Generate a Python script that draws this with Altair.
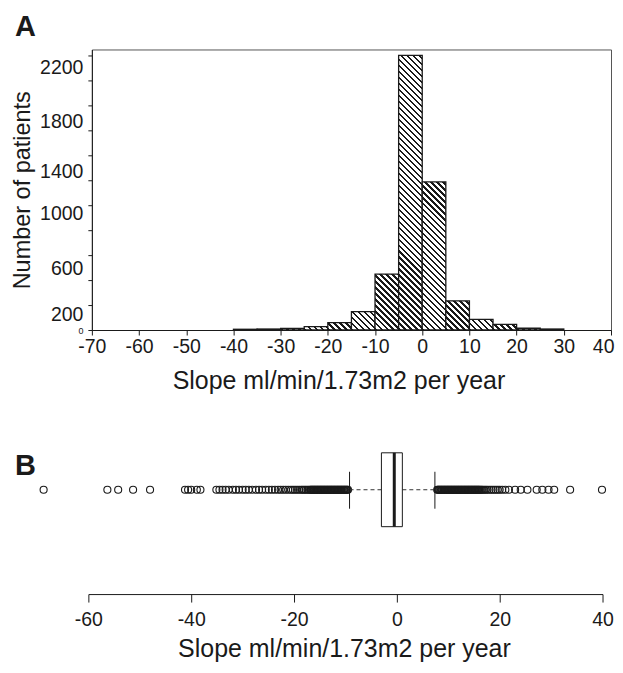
import altair as alt
import pandas as pd

# ---------------- data ----------------
bin_start = [-40, -35, -30, -25, -20, -15, -10, -5, 0, 5, 10, 15, 20, 25]
bin_width = 5
counts = [6, 8, 13, 27, 59, 147, 448, 2200, 1187, 234, 85, 45, 14, 8]

y_ticks = list(range(0, 2201, 200))
y_labelled = [0, 200, 600, 1000, 1400, 1800, 2200]
x_ticks_a = list(range(-70, 41, 10))
x_ticks_b = [-60, -40, -20, 0, 20, 40]

q1, median, q3 = -3.1, -0.6, 0.97
whisker_lo, whisker_hi = -9.3, 7.3

outliers_left = [-68.8, -56.4, -54.3, -51.4, -48.1,
                 -41.3, -40.7, -40.1, -39.0, -38.3,
                 -35.2, -34.6, -34.0, -33.4, -32.8, -32.0, -31.4, -30.8, -30.1,
                 -29.5, -28.9, -28.2, -27.5, -26.9, -26.3, -25.6, -25.0, -24.4,
                 -23.8, -23.2, -22.7, -22.2, -21.7, -21.2, -20.7, -20.3, -19.9,
                 -19.5, -19.1, -18.7, -18.4, -18.1, -17.8, -17.5, -17.2,
                 -16.95, -16.8, -16.65, -16.5, -16.35, -16.2, -16.05, -15.9,
                 -15.75, -15.6, -15.45, -15.3, -15.15, -15.0, -14.85, -14.7,
                 -14.55, -14.4, -14.25, -14.1, -13.95, -13.8, -13.65, -13.5,
                 -13.35, -13.2, -13.05, -12.9, -12.75, -12.6, -12.45, -12.3,
                 -12.15, -12.0, -11.85, -11.7, -11.55, -11.4, -11.25, -11.1,
                 -10.95, -10.8, -10.65, -10.5, -10.35, -10.2, -10.05, -9.9,
                 -9.75, -9.6]
outliers_right = [7.75, 7.9, 8.05, 8.2, 8.35, 8.5, 8.65, 8.8, 8.95, 9.1,
                  9.25, 9.4, 9.55, 9.7, 9.85, 10.0, 10.15, 10.3, 10.45, 10.6,
                  10.75, 10.9, 11.05, 11.2, 11.35, 11.5, 11.65, 11.8, 11.95,
                  12.1, 12.25, 12.4, 12.55, 12.7, 12.85, 13.0, 13.15, 13.3,
                  13.45, 13.6, 13.75, 13.9, 14.05, 14.2, 14.35, 14.5, 14.65,
                  14.8, 14.95, 15.1, 15.25, 15.4, 15.55, 15.7, 15.85, 16.0,
                  16.2, 16.4, 16.6, 16.9, 17.2, 17.5, 17.9, 18.3, 18.7, 19.1,
                  19.5, 19.9, 20.4,
                  21.0, 21.7, 22.9, 24.0, 25.3, 27.1, 28.2, 29.4, 30.5, 33.6, 39.8]

FONT = "Liberation Sans"
INK = "#1a1a1a"

# ---------------- panel A ----------------
WA, HA = 520, 281
xa_dom = [-70, 40]
ya_dom = [0, 2248]
xs_a = alt.Scale(domain=xa_dom, nice=False, zero=False)
ys_a = alt.Scale(domain=ya_dom, nice=False, zero=False)

bars = pd.DataFrame({
    "i": list(range(len(bin_start))),
    "start": bin_start,
    "end": [b + bin_width for b in bin_start],
    "count": counts,
})


def hatch(w, h, period=6.0, dark=0.42):
    """diagonal '\\' hatch as a striped linear gradient in bbox units"""
    k = (w + h) / (w * w + h * h)
    L = w + h
    stops = []
    j = 0
    while True:
        a = j * period / L
        if a >= 1:
            break
        b = min((j + dark) * period / L, 1.0)
        nxt = min((j + 1) * period / L, 1.0)
        stops += [(a, INK), (b, INK), (b, "white"), (nxt, "white")]
        j += 1
    return alt.LinearGradient(
        gradient="linear",
        x1=0, y1=1, x2=round(k * w, 5), y2=round(1 - k * h, 5),
        stops=[alt.GradientStop(offset=round(o, 5), color=c) for o, c in stops],
    )


def build(label_offset):
    x_axis_a = alt.Axis(values=x_ticks_a, grid=False, tickSize=5, tickColor=INK,
                        domainColor=INK, labelFontSize=19.5, labelColor=INK,
                        labelPadding=3, labelExpr="'' + datum.value",
                        labelAlign={"condition": {"test": "datum.value === 40", "value": "right"},
                                    "value": "center"},
                        labelOffset={"condition": {"test": "datum.value === 40", "value": 3},
                                     "value": 0},
                        title="Slope ml/min/1.73m2 per year",
                        titleFontSize=25, titleFontWeight="normal", titleColor=INK,
                        titlePadding=12, titleX=247, labelFlush=False)
    y_axis_a = alt.Axis(values=y_ticks, grid=False, tickSize=4, tickColor=INK,
                        domainColor=INK, labelColor=INK, labelPadding=5,
                        labelExpr="indexof([0,200,600,1000,1400,1800,2200], datum.value) >= 0 ? '' + datum.value : ''",
                        labelFontSize={"condition": {"test": "datum.value === 0", "value": 9}, "value": 19.5},
                        labelOffset=label_offset,
                        title="Number of patients", titleFontSize=23.5,
                        titleFontWeight="normal", titleColor=INK,
                        titleBaseline="alphabetic", titlePadding=10.5)

    px_x = WA / (xa_dom[1] - xa_dom[0])
    px_y = HA / (ya_dom[1] - ya_dom[0])

    layers_a = []
    for i in range(len(bin_start)):
        w = bin_width * px_x
        h = max(counts[i] * px_y, 0.5)
        layers_a.append(
            alt.Chart(bars).transform_filter(alt.datum.i == i)
            .mark_rect(fill=hatch(w, h), stroke=INK, strokeWidth=1.3)
            .encode(
                x=alt.X("start:Q", scale=xs_a, axis=x_axis_a),
                x2="end:Q",
                y=alt.Y("count:Q", scale=ys_a, axis=y_axis_a),
                y2=alt.datum(0),
            )
        )

    label_a = alt.Chart(pd.DataFrame({"t": ["A"]})).mark_text(
        font=FONT, fontSize=29, fontWeight="bold", align="left", baseline="alphabetic",
        color=INK).encode(text="t:N", x=alt.value(-77), y=alt.value(-13))

    panel_a = alt.layer(*layers_a, label_a).properties(
        width=WA, height=HA,
        view=alt.ViewBackground(stroke="#555", strokeWidth=1),
    )

    # ---------------- panel B ----------------
    WB, HB = 520, 159
    xb_dom = [-59.417, 41.553]
    xs_b = alt.Scale(domain=xb_dom, nice=False, zero=False)
    Y_MID = 54
    BOX_T, BOX_B = 17, 91
    CAP_T, CAP_B = 36, 73

    pts = pd.DataFrame({"v": outliers_left + outliers_right})
    stats = pd.DataFrame({"q1": [q1], "med": [median], "q3": [q3],
                          "lo": [whisker_lo], "hi": [whisker_hi]})
    ticks_b = pd.DataFrame({"v": x_ticks_b, "lab": [str(v) for v in x_ticks_b]})
    axis_line = pd.DataFrame({"a": [x_ticks_b[0]], "b": [x_ticks_b[-1]]})

    def xb(f):
        return alt.X(f, scale=xs_b, axis=None)

    points = alt.Chart(pts).mark_point(shape="circle", filled=False, size=50,
                                       stroke=INK, strokeWidth=1.1, opacity=1).encode(
        x=xb("v:Q"), y=alt.value(Y_MID))
    whisk_l = alt.Chart(stats).mark_rule(color="#333", strokeDash=[4, 3], strokeWidth=1).encode(
        x=xb("lo:Q"), x2="q1:Q", y=alt.value(Y_MID))
    whisk_r = alt.Chart(stats).mark_rule(color="#333", strokeDash=[4, 3], strokeWidth=1).encode(
        x=xb("q3:Q"), x2="hi:Q", y=alt.value(Y_MID))
    cap_l = alt.Chart(stats).mark_rule(color=INK, strokeWidth=1).encode(
        x=xb("lo:Q"), y=alt.value(CAP_T), y2=alt.value(CAP_B))
    cap_r = alt.Chart(stats).mark_rule(color=INK, strokeWidth=1).encode(
        x=xb("hi:Q"), y=alt.value(CAP_T), y2=alt.value(CAP_B))
    box = alt.Chart(stats).mark_rect(fill="white", stroke=INK, strokeWidth=1).encode(
        x=xb("q1:Q"), x2="q3:Q", y=alt.value(BOX_T), y2=alt.value(BOX_B))
    med_rule = alt.Chart(stats).mark_rule(color=INK, strokeWidth=3).encode(
        x=xb("med:Q"), y=alt.value(BOX_T), y2=alt.value(BOX_B))
    ax_line = alt.Chart(axis_line).mark_rule(color=INK, strokeWidth=1).encode(
        x=xb("a:Q"), x2="b:Q", y=alt.value(HB))
    ax_ticks = alt.Chart(ticks_b).mark_rule(color=INK, strokeWidth=1).encode(
        x=xb("v:Q"), y=alt.value(HB), y2=alt.value(HB + 8))
    ax_labels = alt.Chart(ticks_b).mark_text(font=FONT, fontSize=19.5, color=INK,
                                             baseline="middle").encode(
        x=xb("v:Q"), y=alt.value(HB + 25), text="lab:N")
    ax_title = alt.Chart(pd.DataFrame({"t": ["Slope ml/min/1.73m2 per year"]})).mark_text(
        font=FONT, fontSize=25, color=INK, baseline="middle").encode(
        x=alt.value(253), y=alt.value(HB + 55), text="t:N")
    label_b = alt.Chart(pd.DataFrame({"t": ["B"]})).mark_text(
        font=FONT, fontSize=29, fontWeight="bold", align="left", baseline="alphabetic",
        color=INK).encode(text="t:N", x=alt.value(-77), y=alt.value(39))

    panel_b = alt.layer(points, whisk_l, whisk_r, cap_l, cap_r, box, med_rule,
                        ax_line, ax_ticks, ax_labels, ax_title, label_b).properties(
        width=WB, height=HB,
        view=alt.ViewBackground(stroke="transparent"),
    )

    return alt.vconcat(panel_a, panel_b, spacing=41).properties(
        padding={"left": 1, "top": 4, "right": 0, "bottom": 0}
    ).configure(font=FONT).configure_view(stroke="transparent")


offset_multi = {"condition": [
    {"test": "datum.value === 0", "value": 0},
    {"test": "datum.value === 2200", "value": 12},
    {"test": "datum.value >= 1400", "value": 16},
    {"test": "datum.value === 1000", "value": 8},
    {"test": "datum.value === 600", "value": 13},
], "value": 9}
offset_single = {"condition": {"test": "datum.value === 0", "value": 0}, "value": 11}

chart = None
for arg in [offset_multi, offset_single]:
    try:
        c = build(arg)
        c.to_dict()
        chart = c
        break
    except Exception:
        continue

chart.save("out.html", embed_options={"renderer": "svg", "actions": False})
